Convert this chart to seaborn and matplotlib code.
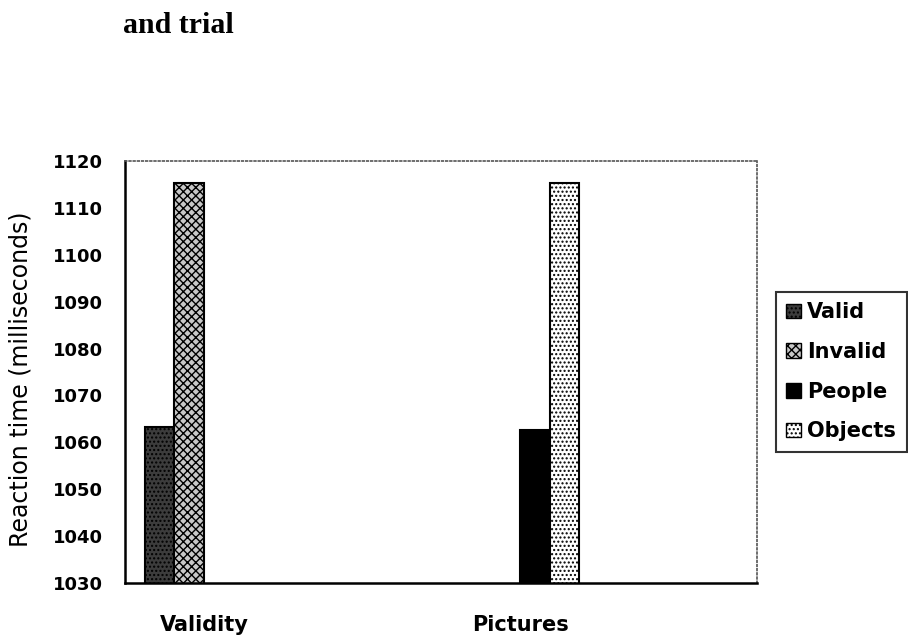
import matplotlib
matplotlib.use("Agg")
import matplotlib.pyplot as plt
from matplotlib.patches import Patch
import seaborn as sns
import pandas as pd
import numpy as np

# ---- data ----
conditions = ["Validity", "Validity", "Pictures", "Pictures"]
series = ["Valid", "Invalid", "People", "Objects"]
reaction_ms = [1063.2, 1115.4, 1062.7, 1115.4]
category_order = ["Validity", "", "Pictures", " "]
series_order = ["Valid", "Invalid", "People", "Objects"]
y_ticks = [1030, 1040, 1050, 1060, 1070, 1080, 1090, 1100, 1110, 1120]
title_text = "and trial"
y_label = "Reaction time (milliseconds)"

df = pd.DataFrame({"Condition": conditions, "Series": series, "RT": reaction_ms})

sns.set_style("white")
plt.rcParams["font.family"] = ["DejaVu Sans"]
for k in ["text.color", "axes.labelcolor", "xtick.color", "ytick.color"]:
    plt.rcParams[k] = "black"

fig = plt.figure(figsize=(9.08, 6.35), dpi=100)
ax = fig.add_axes([125 / 908, 1 - 583 / 635, (757 - 125) / 908, (583 - 161) / 635])

face = {"Valid": "#3c3c3c", "Invalid": "#c8c8c8", "People": "#000000", "Objects": "#ffffff"}
hatch = {"Valid": "....", "Invalid": "xxxx", "People": "", "Objects": "...."}

sns.barplot(data=df, x="Condition", y="RT", hue="Series", order=category_order,
            hue_order=series_order, palette=face, width=0.75, ax=ax,
            edgecolor="black", linewidth=1.5, errorbar=None, legend=False)

for cont, s in zip(ax.containers, series_order):
    for p in cont:
        p.set_hatch(hatch[s])
        p.set_edgecolor("black")
        p.set_facecolor(face[s])

ax.set_ylim(1030, 1120)
ax.set_xlim(-0.5, 3.5)
ax.set_yticks(y_ticks)
ax.set_yticklabels([str(t) for t in y_ticks], fontsize=13, fontweight="bold")
ax.set_xticks(range(len(category_order)))
ax.set_xticklabels(category_order, fontsize=15, fontweight="bold")
ax.set_xticks(np.arange(-0.5, 4.0, 1.0), minor=True)
ax.tick_params(axis="x", which="major", length=0, pad=23)
ax.tick_params(axis="x", which="minor", length=6, width=1.5, direction="out", color="black")
ax.tick_params(axis="y", which="major", length=5, width=1.5, direction="out", color="black", pad=11)
ax.set_xlabel("")
ax.set_ylabel(y_label, fontsize=17, color="black")
ax.yaxis.set_label_coords(-(125 - 33) / 632, 0.5 - 7 / 422)

for side in ["left", "bottom"]:
    ax.spines[side].set_visible(True)
    ax.spines[side].set_color("black")
    ax.spines[side].set_linewidth(1.8)
for side in ["top", "right"]:
    ax.spines[side].set_visible(True)
    ax.spines[side].set_color("#555555")
    ax.spines[side].set_linestyle((0, (1, 1.5)))
    ax.spines[side].set_linewidth(1.2)

handles = [Patch(facecolor=face[s], edgecolor="black", hatch=hatch[s], linewidth=1.0)
           for s in series_order]
leg = fig.legend(handles, series_order, loc="upper left", bbox_to_anchor=(776 / 908, 1 - 292 / 635),
                 prop={"size": 15, "weight": "bold"}, frameon=True, fancybox=False,
                 handlelength=0.7, handleheight=0.7, handletextpad=0.3,
                 labelspacing=0.94, borderpad=0.5, borderaxespad=0)
leg.get_frame().set_edgecolor("black")
leg.get_frame().set_linewidth(1.5)
for t in leg.get_texts():
    t.set_color("black")

fig.text(123 / 908, 1 - 33 / 635, title_text, fontsize=21.5, fontweight="bold",
         family=["Liberation Serif", "DejaVu Serif"], ha="left", va="baseline")

fig.savefig("out.png", dpi=100)
